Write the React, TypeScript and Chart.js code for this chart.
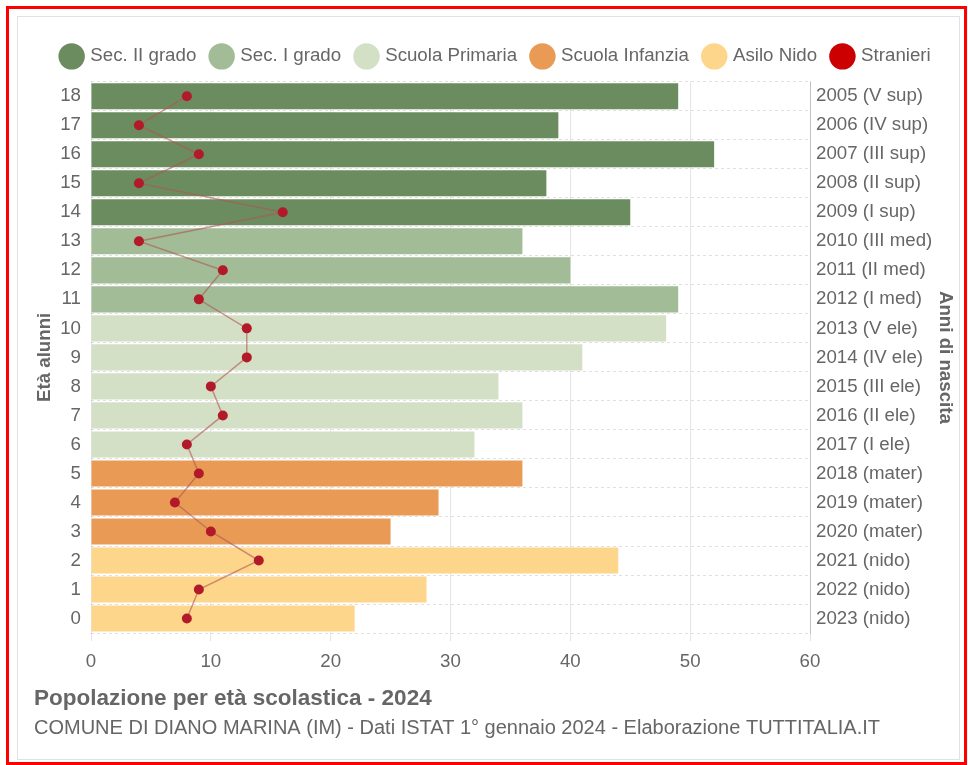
import React, { useEffect, useRef } from "react";
import { Chart, registerables } from "chart.js";

Chart.register(...registerables);

const ages = ["18", "17", "16", "15", "14", "13", "12", "11", "10", "9", "8", "7", "6", "5", "4", "3", "2", "1", "0"];
const birthYears = [
  "2005 (V sup)", "2006 (IV sup)", "2007 (III sup)", "2008 (II sup)", "2009 (I sup)",
  "2010 (III med)", "2011 (II med)", "2012 (I med)",
  "2013 (V ele)", "2014 (IV ele)", "2015 (III ele)", "2016 (II ele)", "2017 (I ele)",
  "2018 (mater)", "2019 (mater)", "2020 (mater)",
  "2021 (nido)", "2022 (nido)", "2023 (nido)",
];
const students = [49, 39, 52, 38, 45, 36, 40, 49, 48, 41, 34, 36, 32, 36, 29, 25, 44, 28, 22];
const foreigners = [8, 4, 9, 4, 16, 4, 11, 9, 13, 13, 10, 11, 8, 9, 7, 10, 14, 9, 8];
const groupNames = ["Sec. II grado", "Sec. I grado", "Scuola Primaria", "Scuola Infanzia", "Asilo Nido"];
const groupOfRow = [0, 0, 0, 0, 0, 1, 1, 1, 2, 2, 2, 2, 2, 3, 3, 3, 4, 4, 4];
const groupColors = ["#6b8c5e", "#a1bc96", "#d4e0c6", "#e99b56", "#fed68b"];
const xTicks = [0, 10, 20, 30, 40, 50, 60];

const TXT = "#666666";
const FONT = "'Liberation Sans', Arial, sans-serif";
const FS = 18.7;

const legendMargin = {
  id: "legendMargin",
  beforeInit(chart: any) {
    const orig = chart.legend.fit;
    chart.legend.fit = function fit() {
      orig.bind(chart.legend)();
      this.height += 6;
    };
  },
};

export default function App() {
  const ref = useRef<HTMLCanvasElement | null>(null);

  useEffect(() => {
    if (!ref.current) return;
    Chart.defaults.font.family = FONT;
    Chart.defaults.color = TXT;

    const barSets = groupNames.map((name, g) => ({
      type: "bar" as const,
      label: name,
      data: students.map((v, i) => (groupOfRow[i] === g ? v : null)),
      backgroundColor: groupColors[g],
      borderWidth: 0,
      grouped: false,
      barPercentage: 0.9,
      categoryPercentage: 1,
      order: 2,
      xAxisID: "x",
      yAxisID: "y",
    }));

    const lineSet = {
      type: "line" as const,
      label: "Stranieri",
      data: foreigners,
      borderColor: "rgba(175,85,80,0.6)",
      borderWidth: 1.5,
      backgroundColor: "#cc0000",
      pointBackgroundColor: "#b21a2a",
      pointBorderWidth: 0,
      pointRadius: 5,
      pointHoverRadius: 5,
      fill: false,
      tension: 0,
      order: 1,
      xAxisID: "x",
      yAxisID: "y",
    };

    const chart = new Chart(ref.current, {
      type: "bar",
      data: {
        labels: ages,
        datasets: [...barSets, lineSet] as any,
      },
      plugins: [legendMargin],
      options: {
        indexAxis: "y",
        animation: false,
        responsive: true,
        maintainAspectRatio: false,
        layout: { padding: { left: 16, right: 0, top: 14, bottom: 19 } },
        scales: {
          x: {
            type: "linear",
            position: "bottom",
            min: 0,
            max: 60,
            z: 1,
            afterBuildTicks: (scale: any) => {
              scale.ticks = xTicks.map((v) => ({ value: v }));
            },
            ticks: { font: { size: FS }, color: TXT, padding: 10 },
            grid: { color: "rgba(0,0,0,0.1)", lineWidth: 1, drawTicks: true, tickLength: 8 },
            border: { display: false },
          },
          y: {
            type: "category",
            position: "left",
            afterFit: (scale: any) => {
              scale.width = 57;
            },
            ticks: { font: { size: FS }, color: TXT, padding: 10 },
            grid: { color: "rgba(0,0,0,0.12)", drawTicks: false, offset: true },
            border: { display: false, dash: [3, 3] },
            title: {
              display: true,
              text: "Età alunni",
              font: { size: FS, weight: "bold" },
              color: TXT,
              padding: { top: 0, bottom: 4 },
            },
          },
          y2: {
            type: "category",
            position: "right",
            labels: birthYears,
            offset: true,
            afterFit: (scale: any) => {
              scale.width = 149;
            },
            ticks: { font: { size: FS }, color: TXT, padding: 6 },
            grid: { display: false, drawTicks: false },
            border: { display: true, color: "rgba(0,0,0,0.15)" },
            title: {
              display: true,
              text: "Anni di nascita",
              font: { size: FS, weight: "bold" },
              color: TXT,
              padding: { top: 3, bottom: 4 },
            },
          },
        },
        plugins: {
          legend: {
            position: "top",
            labels: {
              usePointStyle: true,
              pointStyle: "circle",
              font: { size: FS },
              color: TXT,
              padding: 16,
              sort: (a: any, b: any) => a.datasetIndex - b.datasetIndex,
              generateLabels: (c: any) => {
                const items = Chart.defaults.plugins.legend.labels.generateLabels(c);
                return items.map((it: any) => {
                  const color = it.datasetIndex === groupNames.length ? "#cc0000" : groupColors[it.datasetIndex];
                  return { ...it, fillStyle: color, strokeStyle: color, lineWidth: 0, pointStyle: "circle" };
                });
              },
            },
          },
          title: {
            display: true,
            position: "bottom",
            align: "start",
            text: "Popolazione per età scolastica - 2024",
            font: { size: 22.5, weight: "bold" },
            color: TXT,
            padding: { top: 2, bottom: 3.5 },
            weight: 1000,
          },
          subtitle: {
            display: true,
            position: "bottom",
            align: "start",
            text: "COMUNE DI DIANO MARINA (IM) - Dati ISTAT 1° gennaio 2024 - Elaborazione TUTTITALIA.IT",
            font: { size: 20 },
            color: TXT,
            padding: { top: 0, bottom: 0 },
            weight: 2000,
          },
          tooltip: { enabled: false },
        },
      } as any,
    });
    (chart.options.scales as any).y.grid.borderDash = [3, 3];
    (chart.options.scales as any).y.border.dash = [3, 3];
    chart.update();

    return () => chart.destroy();
  }, []);

  return (
    <div
      style={{
        position: "absolute",
        left: 6,
        top: 6,
        width: 961,
        height: 759,
        border: "3px solid #ff0000",
        boxSizing: "border-box",
        background: "#fff",
      }}
    >
      <div
        style={{
          position: "absolute",
          left: 8,
          top: 7,
          width: 943,
          height: 744,
          border: "1px solid #dfe3e8",
          boxSizing: "border-box",
        }}
      >
        <div style={{ position: "relative", width: 941, height: 742 }}>
          <canvas ref={ref} />
        </div>
      </div>
    </div>
  );
}
